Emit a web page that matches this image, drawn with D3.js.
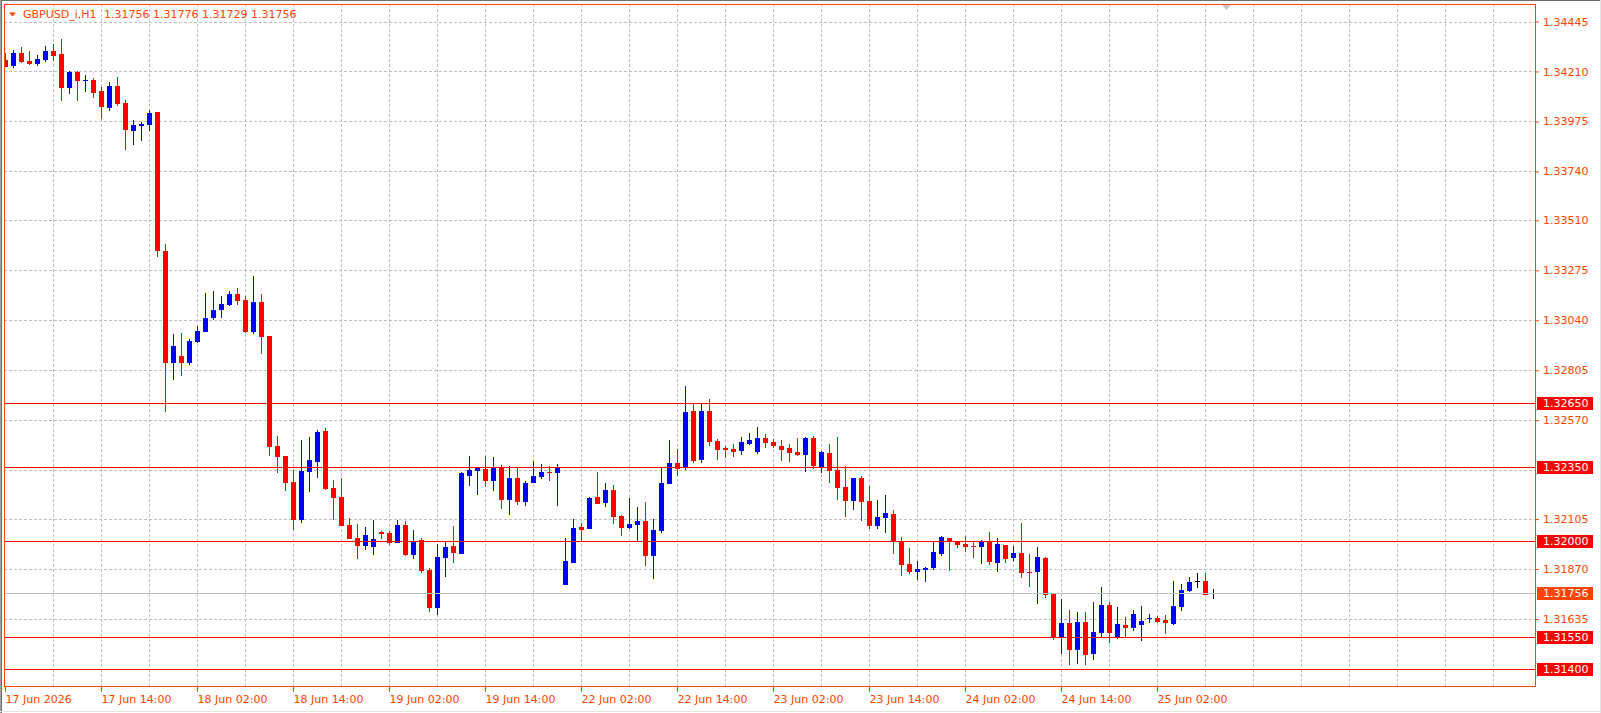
<!DOCTYPE html>
<html>
<head>
<meta charset="utf-8">
<script src="https://d3js.org/d3.v7.min.js"></script>
<style>
  body { margin: 0; background: #fff; }
  svg { display: block; }
  text { font-family: "DejaVu Sans", sans-serif; font-size: 11px; }
</style>
</head>
<body>
<div id="chart"></div>
<script>

// GBPUSD_i H1 bars, 17 Jun 02:00 .. 25 Jun 09:00
var opens = [
  1.34264,1.34237,1.34297,1.34259,1.34247,1.34266,1.34306,1.34292,1.34134,1.34208,
  1.34167,1.34170,1.34118,1.34040,1.34142,1.34062,1.33932,1.33955,1.33960,1.34020,
  1.33366,1.32841,1.32872,1.32841,1.32938,1.32986,1.33052,1.33088,1.33112,1.33164,
  1.33135,1.32985,1.33126,1.32966,1.32449,1.32402,1.32280,1.32102,1.32327,1.32375,
  1.32519,1.32251,1.32209,1.32077,1.32018,1.31980,1.31975,1.32043,1.32040,1.31994,
  1.32077,1.31938,1.32007,1.31866,1.31688,1.31923,1.31979,1.31942,1.32309,1.32333,
  1.32341,1.32286,1.32347,1.32196,1.32298,1.32187,1.32276,1.32303,1.32328,1.32323,
  1.31796,1.31900,1.32068,1.32060,1.32209,1.32182,1.32242,1.32120,1.32065,1.32079,
  1.32096,1.31933,1.32049,1.32272,1.32369,1.32350,1.32613,1.32384,1.32613,1.32472,
  1.32439,1.32435,1.32427,1.32460,1.32421,1.32486,1.32468,1.32449,1.32439,1.32421,
  1.32406,1.32488,1.32350,1.32416,1.32336,1.32256,1.32190,1.32298,1.32190,1.32073,
  1.32110,1.32129,1.32002,1.31894,1.31856,1.31866,1.31875,1.31941,1.32016,1.31997,
  1.31988,1.31979,1.31974,1.31997,1.31899,1.31983,1.31922,1.31946,1.31856,1.31854,
  1.31922,1.31754,1.31552,1.31616,1.31491,1.31621,1.31472,1.31571,1.31701,1.31552,
  1.31607,1.31594,1.31608,1.31637,1.31640,1.31630,1.31612,1.31692,1.31767,1.31814,
  1.31814,1.31756
];
var highs = [
  1.34296,1.34311,1.34325,1.34306,1.34288,1.34330,1.34339,1.34363,1.34211,1.34211,
  1.34194,1.34178,1.34136,1.34161,1.34184,1.34076,1.33982,1.33973,1.34029,1.34020,
  1.33397,1.32976,1.32980,1.32952,1.33013,1.33168,1.33178,1.33154,1.33178,1.33192,
  1.33154,1.33248,1.33164,1.32966,1.32496,1.32402,1.32336,1.32477,1.32491,1.32524,
  1.32533,1.32289,1.32298,1.32110,1.32082,1.32068,1.32102,1.32049,1.32048,1.32101,
  1.32096,1.32054,1.32016,1.31874,1.31988,1.31996,1.32073,1.32325,1.32402,1.32345,
  1.32402,1.32397,1.32359,1.32355,1.32345,1.32284,1.32378,1.32364,1.32353,1.32364,
  1.32015,1.32105,1.32087,1.32209,1.32328,1.32275,1.32265,1.32124,1.32204,1.32162,
  1.32185,1.32106,1.32345,1.32477,1.32435,1.32731,1.32651,1.32646,1.32670,1.32482,
  1.32449,1.32458,1.32491,1.32510,1.32538,1.32505,1.32482,1.32477,1.32458,1.32486,
  1.32490,1.32496,1.32425,1.32458,1.32491,1.32355,1.32298,1.32308,1.32261,1.32195,
  1.32218,1.32148,1.32021,1.31969,1.31908,1.31880,1.32002,1.32026,1.32016,1.32002,
  1.32026,1.32002,1.32007,1.32044,1.32016,1.31983,1.31979,1.32087,1.31941,1.31974,
  1.31928,1.31754,1.31729,1.31677,1.31668,1.31668,1.31715,1.31786,1.31715,1.31692,
  1.31645,1.31677,1.31696,1.31659,1.31649,1.31654,1.31814,1.31800,1.31833,1.31852,
  1.31852,1.31776
];
var lows = [
  1.34230,1.34228,1.34250,1.34242,1.34237,1.34256,1.34259,1.34073,1.34106,1.34073,
  1.34114,1.34087,1.33985,1.34026,1.34049,1.33842,1.33864,1.33885,1.33932,1.33339,
  1.32610,1.32759,1.32778,1.32831,1.32935,1.32986,1.33041,1.33051,1.33107,1.33113,
  1.32982,1.32976,1.32881,1.32402,1.32323,1.32239,1.32054,1.32088,1.32232,1.32298,
  1.32242,1.32103,1.32074,1.32013,1.31917,1.31961,1.31936,1.32011,1.31985,1.31994,
  1.31931,1.31919,1.31850,1.31670,1.31654,1.31834,1.31900,1.31942,1.32262,1.32218,
  1.32257,1.32239,1.32154,1.32126,1.32173,1.32168,1.32275,1.32294,1.32286,1.32168,
  1.31796,1.31900,1.31997,1.32060,1.32177,1.32163,1.32083,1.32027,1.32060,1.31997,
  1.31886,1.31825,1.32041,1.32272,1.32309,1.32336,1.32370,1.32369,1.32449,1.32383,
  1.32392,1.32397,1.32406,1.32455,1.32411,1.32439,1.32439,1.32378,1.32374,1.32402,
  1.32327,1.32339,1.32322,1.32275,1.32195,1.32115,1.32148,1.32096,1.32058,1.32058,
  1.32040,1.31941,1.31837,1.31847,1.31819,1.31809,1.31866,1.31931,1.31861,1.31969,
  1.31950,1.31922,1.31894,1.31889,1.31856,1.31899,1.31908,1.31828,1.31786,1.31706,
  1.31735,1.31538,1.31472,1.31419,1.31424,1.31419,1.31444,1.31547,1.31524,1.31543,
  1.31547,1.31580,1.31533,1.31618,1.31618,1.31566,1.31607,1.31673,1.31762,1.31781,
  1.31748,1.31729
];
var closes = [
  1.34233,1.34297,1.34256,1.34247,1.34269,1.34306,1.34284,1.34134,1.34208,1.34167,
  1.34170,1.34110,1.34045,1.34142,1.34059,1.33936,1.33958,1.33963,1.34015,1.33367,
  1.32841,1.32919,1.32841,1.32943,1.32990,1.33051,1.33088,1.33117,1.33164,1.33132,
  1.32985,1.33126,1.32963,1.32446,1.32399,1.32276,1.32102,1.32333,1.32383,1.32515,
  1.32247,1.32206,1.32074,1.32013,1.31980,1.32030,1.32011,1.32036,1.31994,1.32077,
  1.31936,1.32002,1.31861,1.31688,1.31927,1.31974,1.31947,1.32322,1.32335,1.32345,
  1.32286,1.32347,1.32196,1.32298,1.32187,1.32275,1.32308,1.32327,1.32325,1.32350,
  1.31908,1.32063,1.32054,1.32204,1.32177,1.32242,1.32116,1.32065,1.32082,1.32096,
  1.31933,1.32054,1.32275,1.32369,1.32342,1.32609,1.32378,1.32613,1.32469,1.32431,
  1.32431,1.32422,1.32468,1.32477,1.32486,1.32463,1.32449,1.32430,1.32416,1.32406,
  1.32488,1.32355,1.32421,1.32333,1.32251,1.32190,1.32298,1.32185,1.32073,1.32115,
  1.32134,1.31997,1.31889,1.31856,1.31870,1.31875,1.31950,1.32021,1.31997,1.31983,
  1.31974,1.31975,1.31997,1.31903,1.31988,1.31917,1.31946,1.31852,1.31853,1.31927,
  1.31749,1.31552,1.31616,1.31491,1.31621,1.31467,1.31574,1.31701,1.31571,1.31612,
  1.31594,1.31659,1.31626,1.31640,1.31622,1.31616,1.31696,1.31772,1.31809,1.31814,
  1.31748,1.31756
];

// time axis: bar index of each label
var timeTickBars = [0, 12, 24, 36, 48, 60, 72, 84, 96, 108, 120, 132, 144];
var timeTickLabels = ["17 Jun 2026", "17 Jun 14:00", "18 Jun 02:00", "18 Jun 14:00",
  "19 Jun 02:00", "19 Jun 14:00", "22 Jun 02:00", "22 Jun 14:00", "23 Jun 02:00",
  "23 Jun 14:00", "24 Jun 02:00", "24 Jun 14:00", "25 Jun 02:00"];

// price axis labels
var priceTicks = [1.34445, 1.34210, 1.33975, 1.33740, 1.33510, 1.33275, 1.33040,
  1.32805, 1.32570, 1.32335, 1.32105, 1.31870, 1.31635, 1.31400];

// horizontal lines drawn on the chart + current bid
var levels = [1.32650, 1.32350, 1.32000, 1.31550, 1.31400];
var bidPrice = 1.31756;
var symbol = "GBPUSD_i,H1";

var W = 1601, H = 713;
var plotL = 4, plotT = 4, plotR = 1535, plotB = 686;
var fg = "#ff4500";

var x = d3.scaleLinear().domain([0, 1]).range([5, 13]);   // 8px per bar
var y = d3.scaleLinear().domain([1.31400, 1.34445]).range([669, 21.5]);

var svg = d3.select("#chart").append("svg")
    .attr("width", W)
    .attr("height", H);

svg.append("rect").attr("width", W).attr("height", H).attr("fill", "#fff");

// window edges
svg.append("line").attr("x1", 0).attr("x2", W).attr("y1", 0.5).attr("y2", 0.5).attr("stroke", "#6e6e6e");
svg.append("line").attr("x1", 0.5).attr("x2", 0.5).attr("y1", 0).attr("y2", H).attr("stroke", "#a0a0a0");
svg.append("line").attr("x1", 1.5).attr("x2", 1.5).attr("y1", 1).attr("y2", H).attr("stroke", "#6e6e6e");
svg.append("line").attr("x1", 0).attr("x2", W).attr("y1", H - 1.5).attr("y2", H - 1.5).attr("stroke", "#e3e3e3");
svg.append("line").attr("x1", W - 0.5).attr("x2", W - 0.5).attr("y1", 0).attr("y2", H).attr("stroke", "#e3e3e3");

svg.append("clipPath").attr("id", "plotclip")
  .append("rect")
    .attr("x", plotL + 1).attr("y", plotT + 1)
    .attr("width", plotR - plotL - 1).attr("height", plotB - plotT - 1);

var plot = svg.append("g").attr("clip-path", "url(#plotclip)");

// grid
var gridBars = d3.range(6, 190, 6);
plot.append("g").selectAll("line")
    .data(gridBars)
    .enter().append("line")
    .attr("x1", function (d) { return x(d) + 0.5; })
    .attr("x2", function (d) { return x(d) + 0.5; })
    .attr("y1", plotT)
    .attr("y2", plotB)
    .attr("stroke", "#c0c0c0")
    .attr("stroke-dasharray", "3,2");

plot.append("g").selectAll("line")
    .data(priceTicks)
    .enter().append("line")
    .attr("x1", plotL)
    .attr("x2", plotR)
    .attr("y1", function (d) { return Math.round(y(d)) + 0.5; })
    .attr("y2", function (d) { return Math.round(y(d)) + 0.5; })
    .attr("stroke", "#c0c0c0")
    .attr("stroke-dasharray", "3,2");

// candles
var bars = d3.range(opens.length).map(function (i) {
  return { i: i, o: opens[i], h: highs[i], l: lows[i], c: closes[i] };
});

function barColor(d) {
  if (d.c > d.o) return "#0000ff";
  if (d.c < d.o) return "#ff0000";
  return "#000000";
}

var candle = plot.append("g").selectAll("g")
    .data(bars)
    .enter().append("g");

candle.append("line")
    .attr("x1", function (d) { return x(d.i) + 0.5; })
    .attr("x2", function (d) { return x(d.i) + 0.5; })
    .attr("y1", function (d) { return Math.round(y(d.h)); })
    .attr("y2", function (d) { return Math.max(Math.round(y(d.l)), Math.round(y(d.h)) + 1); })
    .attr("stroke", barColor);

candle.append("rect")
    .attr("x", function (d) { return x(d.i) - 2; })
    .attr("width", 5)
    .attr("y", function (d) { return Math.round(y(Math.max(d.o, d.c))); })
    .attr("height", function (d) {
      var t = Math.round(y(Math.max(d.o, d.c))), b = Math.round(y(Math.min(d.o, d.c)));
      return Math.max(1, b - t);
    })
    .attr("fill", barColor);

// bid line and the horizontal line objects
plot.append("line")
    .attr("x1", plotL).attr("x2", plotR)
    .attr("y1", Math.round(y(bidPrice)) + 0.5)
    .attr("y2", Math.round(y(bidPrice)) + 0.5)
    .attr("stroke", "#c0c0c0");

plot.append("g").selectAll("line")
    .data(levels)
    .enter().append("line")
    .attr("x1", plotL)
    .attr("x2", plotR)
    .attr("y1", function (d) { return Math.round(y(d)) + 0.5; })
    .attr("y2", function (d) { return Math.round(y(d)) + 0.5; })
    .attr("stroke", "#ff0000");

// frame
svg.append("rect")
    .attr("x", plotL + 0.5).attr("y", plotT + 0.5)
    .attr("width", plotR - plotL).attr("height", plotB - plotT)
    .attr("fill", "none")
    .attr("stroke", fg);

// price axis (labels hidden where a line label box sits)
var boxes = levels.concat([bidPrice]);
var shownTicks = priceTicks.filter(function (p) {
  return boxes.every(function (b) { return Math.abs(y(p) - y(b)) > 12; });
});

var yAxis = d3.axisRight(y)
    .tickValues(shownTicks)
    .tickSize(4)
    .tickPadding(4)
    .tickFormat(d3.format(".5f"));

var gy = svg.append("g")
    .attr("transform", "translate(" + plotR + ",0)")
    .call(yAxis);
gy.select(".domain").remove();
gy.selectAll("line").attr("stroke", fg);
gy.selectAll("text").attr("fill", fg).style("font-family", "DejaVu Sans").style("font-size", "11px");

// time axis
var xAxis = d3.axisBottom(x)
    .tickValues(timeTickBars)
    .tickSize(5)
    .tickPadding(3)
    .tickFormat(function (d, i) { return timeTickLabels[i]; });

var gx = svg.append("g")
    .attr("transform", "translate(0," + (plotB + 1) + ")")
    .call(xAxis);
gx.select(".domain").remove();
gx.selectAll("line").attr("stroke", fg);
gx.selectAll("text")
    .attr("fill", fg)
    .attr("text-anchor", "start")
    .style("font-family", "DejaVu Sans")
    .style("font-size", "11px");

// price boxes on the right
var boxData = levels.map(function (v) { return { v: v, fill: "#ff0000" }; });
boxData.push({ v: bidPrice, fill: fg });

var box = svg.append("g").selectAll("g")
    .data(boxData)
    .enter().append("g")
    .attr("transform", function (d) { return "translate(0," + (Math.round(y(d.v)) + 0.5) + ")"; });

box.append("rect")
    .attr("x", plotR + 2)
    .attr("y", -6.5)
    .attr("width", 56)
    .attr("height", 13)
    .attr("fill", function (d) { return d.fill; });

box.append("text")
    .attr("x", plotR + 8)
    .attr("dy", "0.32em")
    .attr("fill", "#fff")
    .text(function (d) { return d3.format(".5f")(d.v); });

// header
svg.append("path")
    .attr("d", "M9,12.5L16,12.5L12.5,16.5Z")
    .attr("fill", fg);

var last = bars[bars.length - 1];
var f5 = d3.format(".5f");
svg.append("text")
    .attr("x", 23).attr("y", 18)
    .attr("fill", fg)
    .text(symbol);
svg.append("text")
    .attr("x", 104).attr("y", 18)
    .attr("fill", fg)
    .text([last.o, last.h, last.l, last.c].map(f5).join(" "));

// chart shift marker
svg.append("path")
    .attr("d", "M1222,5L1231,5L1226.5,10Z")
    .attr("fill", "#c8c8c8");

</script>
</body>
</html>
